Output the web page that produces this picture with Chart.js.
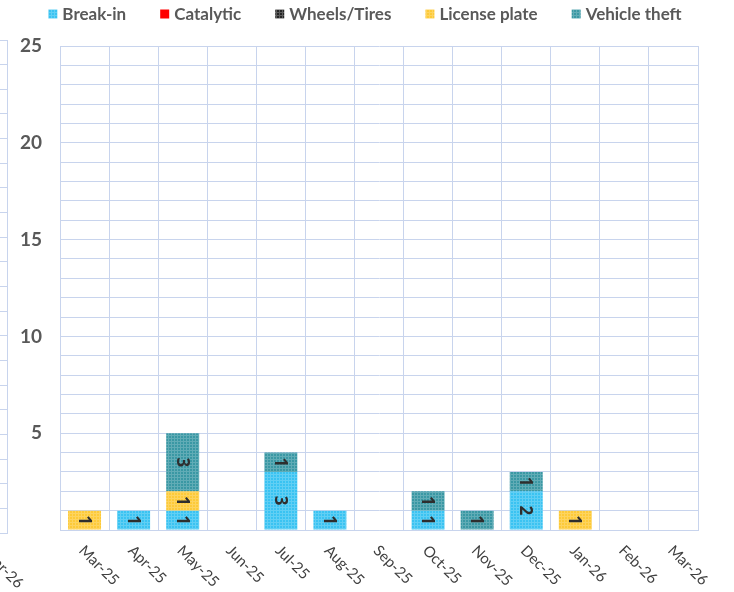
<!DOCTYPE html>
<html>
<head>
<meta charset="utf-8">
<script src="https://cdn.jsdelivr.net/npm/chart.js@4"></script>
<style>
  html, body { margin: 0; padding: 0; background: #fff; overflow: hidden; }
  #wrap { position: relative; width: 734px; height: 592px; overflow: hidden; }
  #mainChart { position: absolute; left: 0; top: 0; }
  #prevChart { position: absolute; left: -707px; top: 0; }
</style>
</head>
<body>
<div id="wrap">
  <canvas id="prevChart" width="734" height="592"></canvas>
  <canvas id="mainChart" width="734" height="592"></canvas>
</div>
<script>
// Monthly incident counts
const months = ['Mar-25', 'Apr-25', 'May-25', 'Jun-25', 'Jul-25', 'Aug-25', 'Sep-25', 'Oct-25', 'Nov-25', 'Dec-25', 'Jan-26', 'Feb-26', 'Mar-26'];
const breakIn      = [0, 1, 1, 0, 3, 1, 0, 1, 0, 2, 0, 0, 0];
const catalytic    = [0, 0, 0, 0, 0, 0, 0, 0, 0, 0, 0, 0, 0];
const wheelsTires  = [0, 0, 0, 0, 0, 0, 0, 0, 0, 0, 0, 0, 0];
const licensePlate = [1, 0, 1, 0, 0, 0, 0, 0, 0, 0, 1, 0, 0];
const vehicleTheft = [0, 0, 3, 0, 1, 0, 0, 1, 1, 1, 0, 0, 0];
const yMax = 25;
const yLabelStep = 5;

const GRID = '#c8d4ed';
const TEXT = '#595959';
const FONT = 'Lato, "Open Sans", sans-serif';

// small dotted fill like the spreadsheet pattern fills
function makePattern(base, light) {
    const c = document.createElement('canvas');
    c.width = 3;
    c.height = 3;
    const g = c.getContext('2d');
    g.fillStyle = base;
    g.fillRect(0, 0, 3, 3);
    g.fillStyle = light;
    g.fillRect(0, 0, 3, 1);
    g.fillRect(0, 1, 1, 2);
    return g.createPattern(c, 'repeat');
}

const colors = {
    breakIn: makePattern('#3ac3f2', 'rgba(255,255,255,0.2)'),
    catalytic: '#ff0000',
    wheels: makePattern('#262626', 'rgba(255,255,255,0.25)'),
    license: makePattern('#fdca38', 'rgba(255,255,255,0.2)'),
    theft: makePattern('#3a98a4', 'rgba(255,255,255,0.2)')
};

// rotated value labels in the middle of each segment
const segmentLabels = {
    id: 'segmentLabels',
    afterDatasetsDraw(chart) {
        const ctx = chart.ctx;
        chart.data.datasets.forEach((ds, i) => {
            const meta = chart.getDatasetMeta(i);
            meta.data.forEach((bar, j) => {
                const v = ds.data[j];
                if (!v) return;
                ctx.save();
                ctx.translate(bar.x, (bar.y + bar.base) / 2);
                ctx.rotate(Math.PI / 2);
                ctx.font = 'bold 17px "Open Sans", sans-serif';
                ctx.fillStyle = '#2e2e2e';
                ctx.textAlign = 'center';
                ctx.textBaseline = 'middle';
                ctx.fillText(String(v), 0, 1);
                ctx.restore();
            });
        });
    }
};

// month labels slanting down to the right
const monthLabels = {
    id: 'monthLabels',
    afterDraw(chart) {
        const ctx = chart.ctx;
        const x = chart.scales.x;
        ctx.save();
        ctx.font = '15px ' + FONT;
        ctx.fillStyle = '#404040';
        ctx.textAlign = 'left';
        ctx.textBaseline = 'middle';
        chart.data.labels.forEach((lab, i) => {
            const px = x.getPixelForValue(i);
            ctx.save();
            ctx.translate(px - 3, x.top + 18);
            ctx.rotate(Math.PI / 4);
            ctx.fillText(lab, 0, 0);
            ctx.restore();
        });
        ctx.restore();
    }
};

// legend row across the top
const topLegend = {
    id: 'topLegend',
    afterDraw(chart) {
        const ctx = chart.ctx;
        const box = 9, gap = 5, spacing = 34;
        ctx.save();
        ctx.font = 'bold 17px ' + FONT;
        const items = chart.data.datasets.map(ds => ({
            label: ds.label,
            fill: ds.backgroundColor,
            w: box + gap + ctx.measureText(ds.label).width
        }));
        const total = items.reduce((s, it) => s + it.w, 0) + spacing * (items.length - 1);
        let x = (chart.width - total) / 2 - 2;
        const y = 14;
        items.forEach(it => {
            ctx.fillStyle = it.fill;
            ctx.fillRect(x, y - box / 2, box, box);
            ctx.fillStyle = TEXT;
            ctx.textAlign = 'left';
            ctx.textBaseline = 'middle';
            ctx.fillText(it.label, x + box + gap, y + 1);
            x += it.w + spacing;
        });
        ctx.restore();
    }
};

new Chart(document.getElementById('mainChart'), {
    type: 'bar',
    data: {
        labels: months,
        datasets: [
            { label: 'Break-in', data: breakIn, backgroundColor: colors.breakIn },
            { label: 'Catalytic', data: catalytic, backgroundColor: colors.catalytic },
            { label: 'Wheels/Tires', data: wheelsTires, backgroundColor: colors.wheels },
            { label: 'License plate', data: licensePlate, backgroundColor: colors.license },
            { label: 'Vehicle theft', data: vehicleTheft, backgroundColor: colors.theft }
        ]
    },
    options: {
        responsive: false,
        animation: false,
        devicePixelRatio: 1,
        layout: { padding: { top: 46, right: 36, left: 0, bottom: 0 } },
        datasets: { bar: { barPercentage: 0.84, categoryPercentage: 0.8 } },
        plugins: { legend: { display: false }, tooltip: { enabled: false } },
        scales: {
            x: {
                stacked: true,
                grid: { color: GRID, lineWidth: 1, drawTicks: false, offset: true },
                border: { color: GRID },
                ticks: { display: false },
                afterFit(scale) { scale.height = 62; }
            },
            y: {
                stacked: true,
                min: 0,
                max: yMax,
                grid: { color: GRID, lineWidth: 1, drawTicks: false },
                border: { color: GRID },
                ticks: {
                    stepSize: 1,
                    autoSkip: false,
                    padding: 18,
                    color: TEXT,
                    font: { family: FONT, size: 19, weight: 'bold' },
                    callback: v => (v > 0 && v % yLabelStep === 0) ? String(v) : ''
                },
                afterFit(scale) { scale.width = 60; }
            }
        }
    },
    plugins: [segmentLabels, monthLabels, topLegend]
});

// edge of the neighbouring chart, cut off at the left
const prevScale = [0, 0, 0, 0, 0, 0, 0, 0, 0, 0, 0, 0, 0];
new Chart(document.getElementById('prevChart'), {
    type: 'bar',
    data: { labels: months, datasets: [{ label: '', data: prevScale }] },
    options: {
        responsive: false,
        animation: false,
        devicePixelRatio: 1,
        layout: { padding: { top: 40, right: 20, left: 0, bottom: 0 } },
        plugins: { legend: { display: false }, tooltip: { enabled: false } },
        scales: {
            x: {
                grid: { color: GRID, drawTicks: false, offset: true },
                border: { color: GRID },
                ticks: { display: false },
                afterFit(scale) { scale.height = 59; }
            },
            y: {
                min: 0,
                max: 20,
                grid: { color: GRID, drawTicks: false },
                border: { color: GRID },
                ticks: { stepSize: 1, display: false },
                afterFit(scale) { scale.width = 246; }
            }
        }
    },
    plugins: [monthLabels]
});
</script>
</body>
</html>
